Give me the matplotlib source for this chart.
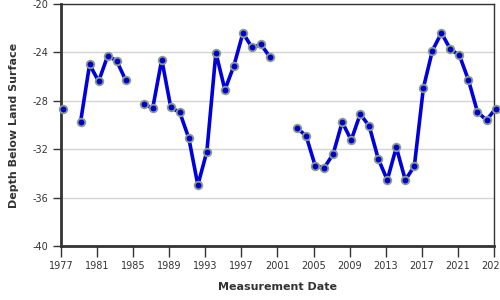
import numpy as np
import matplotlib
matplotlib.use("Agg")
import matplotlib.pyplot as plt

years = list(range(1977, 2026))
depth = [
    -28.65, np.nan, -29.74, -25.0, -26.4, -24.3, -24.7, -26.3, np.nan, -28.3,
    -28.6, -24.6, -28.55, -28.97, -31.1, -34.96, -32.2, -24.03, -27.1, -25.1,
    -22.4, -23.6, -23.35, -24.4, np.nan, np.nan, -30.26, -30.9, -33.36, -33.55,
    -32.4, -29.76, -31.25, -29.1, -30.1, -32.8, -34.55, -31.85, -34.55, -33.4,
    -26.95, -23.86, -22.4, -23.75, -24.25, -26.3, -28.93, -29.6, -28.66,
]
date_offset = 0.17
xticks = list(range(1977, 2026, 4))
yticks = [-40, -36, -32, -28, -24, -20]

dates = np.array(years) + date_offset

fig = plt.figure(figsize=(5, 3), dpi=100)
ax = fig.add_axes([0.122, 0.18, 0.866, 0.807])

ax.plot(dates, depth, color="#0000dd", lw=2.6, marker="o", markersize=5.5,
        markerfacecolor="#0000cc", markeredgecolor="#8c9c8c", markeredgewidth=1.3,
        zorder=3, clip_on=False)

ax.set_xlim(1977, 2025)
ax.set_ylim(-40, -20)
ax.set_xticks(xticks)
ax.set_yticks(yticks)
ax.set_yticklabels([str(v) for v in yticks])
ax.grid(axis="y", color="#d4d4d4", lw=1)
ax.set_axisbelow(True)

for s in ["left", "bottom"]:
    ax.spines[s].set_linewidth(2)
    ax.spines[s].set_color("#333333")
for s in ["top", "right"]:
    ax.spines[s].set_linewidth(1)
    ax.spines[s].set_color("#333333")

ax.tick_params(axis="both", labelsize=7, colors="#333333", width=1)
ax.tick_params(axis="x", length=8, pad=3)
ax.tick_params(axis="y", length=6, pad=3)
ax.set_xlabel("Measurement Date", fontsize=8, fontweight="bold", color="#333333", labelpad=8)
ax.set_ylabel("Depth Below Land Surface", fontsize=8, fontweight="bold", color="#333333", labelpad=10)

fig.savefig("out.png", dpi=100)
